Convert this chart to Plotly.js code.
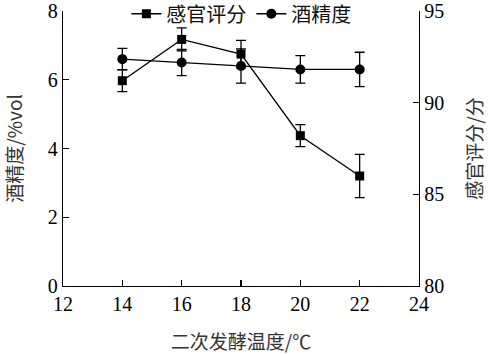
<!DOCTYPE html>
<html><head><meta charset="utf-8">
<script src="https://cdn.plot.ly/plotly-3.0.1.min.js"></script>
<style>body{margin:0;padding:0;background:#fff}#c{width:489px;height:354px}</style>
</head><body><div id="c"></div>
<script>
const temps = [14, 16, 18, 20, 22];
const alcohol = [6.6, 6.5, 6.4, 6.3, 6.3];
const alcoholErr = [0.31, 0.38, 0.5, 0.4, 0.5];
const sensory = [91.2, 93.45, 92.65, 88.2, 86.0];
const sensoryErr = [0.6, 0.63, 0.75, 0.6, 1.18];
const xTicks = [12, 14, 16, 18, 20, 22, 24];

const F = "'Liberation Serif','Times New Roman','Noto Sans CJK SC',serif";
const FC = "'Noto Sans CJK SC','Liberation Serif',serif";

const traces = [
  {x: temps, y: sensory, yaxis: 'y2', name: '感官评分', type: 'scatter', mode: 'lines+markers',
   line: {color: '#000', width: 1.3}, marker: {symbol: 'square', size: 9, color: '#000'},
   error_y: {type: 'data', array: sensoryErr, visible: true, color: '#000', thickness: 1.3, width: 5}},
  {x: temps, y: alcohol, yaxis: 'y', name: '酒精度', type: 'scatter', mode: 'lines+markers',
   line: {color: '#000', width: 1.3}, marker: {symbol: 'circle', size: 10, color: '#000'},
   error_y: {type: 'data', array: alcoholErr, visible: true, color: '#000', thickness: 1.3, width: 5}}
];

const layout = {
  width: 489, height: 354,
  margin: {l: 63, r: 70, t: 11, b: 68, autoexpand: false},
  paper_bgcolor: '#fff', plot_bgcolor: '#fff',
  showlegend: true,
  legend: {orientation: 'h', x: 0.178, xanchor: 'left', y: 0.99, yanchor: 'middle',
    bgcolor: 'rgba(0,0,0,0)', font: {family: FC, size: 20, color: '#111'}, itemwidth: 30,
    traceorder: 'normal'},
  xaxis: {range: [12, 24], tickvals: xTicks, ticktext: xTicks.map(String),
    showgrid: false, zeroline: false, showline: true, linecolor: '#000', linewidth: 1.3,
    ticks: 'inside', ticklen: 6, tickcolor: '#000', tickwidth: 1.3,
    tickfont: {family: F, size: 20, color: '#000'},
    title: {text: '二次发酵温度/℃', font: {family: FC, size: 19, color: '#333'}, standoff: 22}},
  yaxis: {range: [0, 8], dtick: 2, showgrid: false, zeroline: false, showline: true,
    linecolor: '#000', linewidth: 1.3, ticks: 'inside', ticklen: 6, tickcolor: '#000', tickwidth: 1.3,
    tickfont: {family: F, size: 20, color: '#000'},
    title: {text: '酒精度/%vol', font: {family: FC, size: 19, color: '#333'}, standoff: 25}},
  yaxis2: {range: [80, 95], dtick: 5, overlaying: 'y', side: 'right', showgrid: false, zeroline: false,
    showline: true, linecolor: '#000', linewidth: 1.3, ticks: 'inside', ticklen: 6, tickcolor: '#000', tickwidth: 1.3,
    tickfont: {family: F, size: 20, color: '#000'},
    title: {text: '感官评分/分', font: {family: FC, size: 19, color: '#333'}, standoff: 25}}
};

Plotly.newPlot('c', traces, layout, {displayModeBar: false, staticPlot: true});
</script>
</body></html>
